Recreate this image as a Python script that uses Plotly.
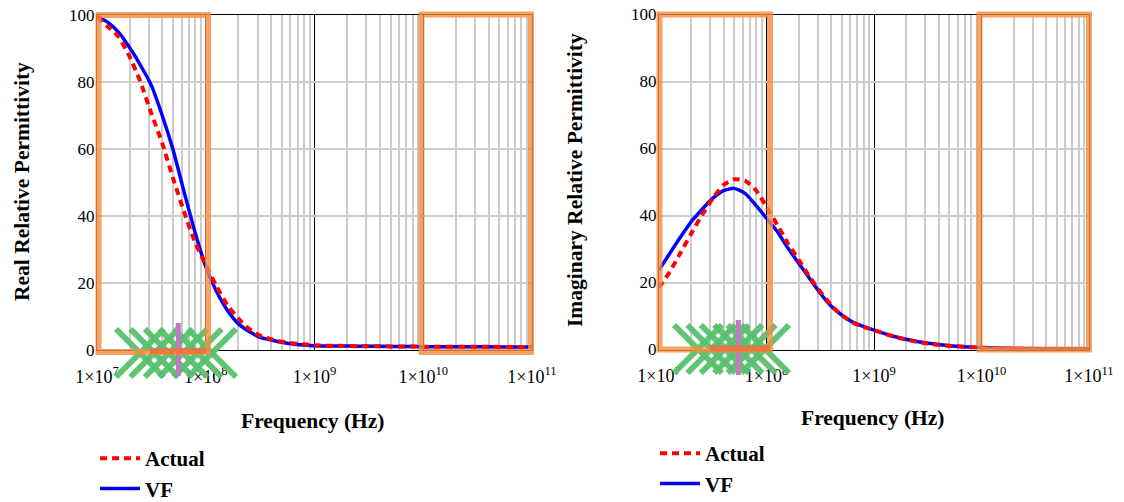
import plotly.graph_objects as go

# Frequency sample points (Hz)
freq = [1.00e7, 1.26e7, 1.58e7, 2.00e7, 2.51e7, 3.16e7, 3.98e7, 5.01e7, 6.31e7, 7.94e7,
        1.00e8, 1.26e8, 1.58e8, 2.00e8, 2.51e8, 3.16e8, 3.98e8, 5.01e8, 6.31e8, 7.94e8,
        1.00e9, 1.58e9, 2.51e9, 3.98e9, 6.31e9, 1.00e10, 3.16e10, 1.00e11]

# Real part of relative permittivity
real_actual = [99.5, 96.5, 93.5, 87.5, 80.0, 70.6, 61.7, 51.2, 41.3, 32.3,
               25.4, 18.9, 13.4, 9.4, 6.3, 4.3, 3.2, 2.5, 2.0, 1.7,
               1.4, 1.25, 1.15, 1.1, 1.05, 1.0, 0.95, 0.9]
real_vf = [99.6, 97.8, 94.8, 90.2, 85.0, 79.0, 70.0, 59.7, 47.3, 35.3,
           24.9, 17.4, 11.9, 7.8, 5.5, 3.8, 3.0, 2.3, 1.8, 1.5,
           1.3, 1.2, 1.15, 1.1, 1.05, 1.0, 0.95, 0.9]

# Imaginary part of relative permittivity
imag_actual = [18.5, 23.2, 28.8, 34.7, 40.1, 45.1, 49.1, 50.8, 50.4, 47.6,
               42.6, 37.2, 31.7, 26.7, 21.7, 17.3, 13.3, 10.2, 8.1, 6.8,
               5.8, 3.7, 2.3, 1.4, 0.9, 0.5, 0.2, 0.1]
imag_vf = [23.7, 28.7, 33.5, 38.2, 41.8, 45.1, 47.4, 48.1, 46.6, 43.1,
           39.2, 35.2, 30.3, 25.7, 21.3, 16.8, 13.0, 10.3, 8.2, 6.9,
           5.8, 3.8, 2.4, 1.5, 0.9, 0.6, 0.2, 0.1]

tick_vals = [1e7, 1e8, 1e9, 1e10, 1e11]
tick_text = ["1×10<sup>7</sup>", "1×10<sup>8</sup>", "1×10<sup>9</sup>",
             "1×10<sup>10</sup>", "1×10<sup>11</sup>"]
y_ticks = [0, 20, 40, 60, 80, 100]

W, H = 1124, 502
SERIF = "Liberation Serif, Times New Roman, serif"


def px(x):
    return x / W


def py(y):
    return 1 - y / H


minor_vals = [m * d for d in (1e7, 1e8, 1e9, 1e10) for m in range(2, 10)]

fig = go.Figure()

# VF first so the dashed measured curve sits on top
fig.add_trace(go.Scatter(x=freq, y=real_vf, name="VF", mode="lines",
                         line=dict(color="#0000ff", width=3.5, shape="spline", smoothing=0.6),
                         xaxis="x", yaxis="y", legend="legend", legendrank=2))
fig.add_trace(go.Scatter(x=freq, y=real_actual, name="Actual", mode="lines",
                         line=dict(color="#ff0000", width=4, dash="7px,5px", shape="spline", smoothing=0.6),
                         xaxis="x", yaxis="y", legend="legend", legendrank=1))
fig.add_trace(go.Scatter(x=freq, y=imag_vf, name="VF", mode="lines",
                         line=dict(color="#0000ff", width=3.5, shape="spline", smoothing=0.6),
                         xaxis="x2", yaxis="y2", legend="legend2", legendrank=2))
fig.add_trace(go.Scatter(x=freq, y=imag_actual, name="Actual", mode="lines",
                         line=dict(color="#ff0000", width=4, dash="7px,5px", shape="spline", smoothing=0.6),
                         xaxis="x2", yaxis="y2", legend="legend2", legendrank=1))

xax = dict(type="log", range=[7, 11], tickmode="array", tickvals=tick_vals, ticktext=tick_text,
           showgrid=True, gridcolor="#000000", gridwidth=1,
           minor=dict(tickvals=minor_vals, showgrid=True, gridcolor="#cccccc", gridwidth=1.5),
           showline=True, linecolor="#000000", linewidth=1, mirror=True,
           ticks="", ticklabelstandoff=10, zeroline=False, automargin=False,
           tickfont=dict(family=SERIF, size=18, color="#000000"))
yax = dict(range=[0, 100], tickmode="array", tickvals=y_ticks,
           showgrid=True, gridcolor="#cccccc", gridwidth=1.5,
           showline=True, linecolor="#000000", linewidth=1, mirror=True,
           ticks="", zeroline=False, ticklabelstandoff=-2, automargin=False,
           tickfont=dict(family=SERIF, size=17, color="#000000"))

legend_font = dict(family=SERIF, size=21, color="#000000", weight="bold")
fig.update_layout(
    width=W, height=H,
    margin=dict(l=0, r=0, t=0, b=0, autoexpand=False),
    paper_bgcolor="white", plot_bgcolor="white",
    xaxis=dict(xax, domain=[px(97), px(532)], anchor="y"),
    yaxis=dict(yax, domain=[py(350), py(15)], anchor="x"),
    xaxis2=dict(xax, domain=[px(659), px(1089)], anchor="y2"),
    yaxis2=dict(yax, domain=[py(349.5), py(14.5)], anchor="x2"),
    legend=dict(x=px(95), y=py(438), xanchor="left", yanchor="top", font=legend_font,
                bgcolor="rgba(0,0,0,0)", itemwidth=40, tracegroupgap=0),
    legend2=dict(x=px(655), y=py(433), xanchor="left", yanchor="top", font=legend_font,
                 bgcolor="rgba(0,0,0,0)", itemwidth=40, tracegroupgap=0),
    showlegend=True,
)

title_font = dict(family=SERIF, size=21.5, color="#000000", weight="bold")
fig.add_annotation(text="Frequency (Hz)", x=px(313), y=py(421), xref="paper", yref="paper",
                   showarrow=False, font=title_font, xanchor="center", yanchor="middle")
fig.add_annotation(text="Frequency (Hz)", x=px(873), y=py(418), xref="paper", yref="paper",
                   showarrow=False, font=title_font, xanchor="center", yanchor="middle")
fig.add_annotation(text="Real Relative Permittivity", x=px(22), y=py(182), xref="paper", yref="paper",
                   showarrow=False, font=title_font, textangle=-90, xanchor="center", yanchor="middle")
fig.add_annotation(text="Imaginary Relative Permittivity", x=px(575), y=py(180), xref="paper", yref="paper",
                   showarrow=False, font=title_font, textangle=-90, xanchor="center", yanchor="middle")

shapes = []
GREEN = "rgba(88,192,110,0.95)"
PURPLE = "rgb(192,122,190)"
ORANGE = "rgba(245,140,62,0.8)"


def seg(x0, y0, x1, y1, color, width):
    shapes.append(dict(type="line", xref="paper", yref="paper",
                       x0=px(x0), y0=py(y0), x1=px(x1), y1=py(y1),
                       line=dict(color=color, width=width), layer="above"))


def cross_row(cx0, step, cy, half):
    for i in range(6):
        cx = cx0 + step * i
        seg(cx - half, cy - half, cx + half, cy + half, GREEN, 6)
        seg(cx - half, cy + half, cx + half, cy - half, GREEN, 6)


cross_row(140, 14.4, 353, 24)
cross_row(698, 13.4, 349, 24)

seg(178.3, 323, 178.3, 376, PURPLE, 5)
seg(738.3, 320, 738.3, 375, PURPLE, 5)

for (x0, y0, x1, y1) in [(98.5, 15, 208, 352), (421.5, 14.5, 531, 352),
                         (659.5, 14.5, 770, 349.5), (979.5, 14.5, 1089, 349.5)]:
    shapes.append(dict(type="rect", xref="paper", yref="paper",
                       x0=px(x0), y0=py(y1), x1=px(x1), y1=py(y0),
                       line=dict(color=ORANGE, width=6), fillcolor="rgba(0,0,0,0)", layer="above"))

seg(150, 351, 207, 351, "rgba(235,110,60,0.75)", 6)
seg(710, 348.5, 770, 348.5, "rgba(235,110,60,0.75)", 6)

fig.update_layout(shapes=shapes)

fig.write_html("out.html")
